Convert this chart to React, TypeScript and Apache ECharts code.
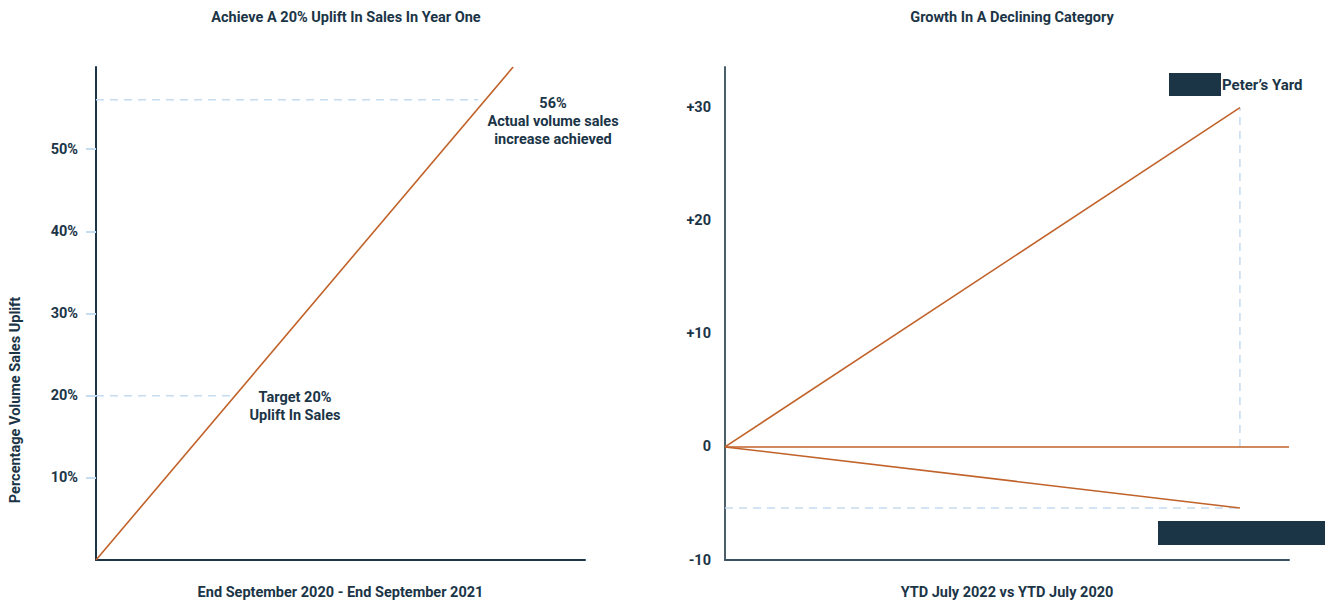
import React, { useEffect, useRef } from "react";
import * as echarts from "echarts";

const leftTitle = "Achieve A 20% Uplift In Sales In Year One";
const rightTitle = "Growth In A Declining Category";
const leftXName = "End September 2020 - End September 2021";
const rightXName = "YTD July 2022 vs YTD July 2020";
const leftYName = "Percentage Volume Sales Uplift";

const leftTicks = [10, 20, 30, 40, 50];
const rightTicks = [-10, 0, 10, 20, 30];

const upliftLine = [[0, 0], [85.3, 60]];
const targetGuide = [[0, 20], [28.4, 20]];
const actualGuide = [[0, 56], [78.2, 56]];

const petersYard = [[0, 0], [91.3, 30]];
const baseline = [[0, 0], [100, 0]];
const category = [[0, 0], [91.3, -5.4]];
const petersGuide = [[91.3, 0], [91.3, 30]];
const categoryGuide = [[0, -5.4], [91.3, -5.4]];

const NAVY = "#1b3547";
const ORANGE = "#c0622a";
const GUIDE = "#c6dcef";
const FONT = "Roboto, 'Noto Sans', sans-serif";

export default function App() {
  const ref = useRef<HTMLDivElement>(null);
  useEffect(() => {
    if (!ref.current) return;
    const chart = echarts.init(ref.current, undefined, { renderer: "svg" });
    const solid = (data: number[][], xi: number) => ({
      type: "line",
      xAxisIndex: xi,
      yAxisIndex: xi,
      data,
      symbol: "none",
      lineStyle: { color: ORANGE, width: 1.6 },
      silent: true,
      z: 5,
    });
    const dashed = (data: number[][], xi: number) => ({
      type: "line",
      xAxisIndex: xi,
      yAxisIndex: xi,
      data,
      symbol: "none",
      lineStyle: { color: GUIDE, width: 1.5, type: [8, 6] },
      silent: true,
      z: 2,
    });
    const axisLabelStyle = { color: NAVY, fontFamily: FONT, fontWeight: "bold", fontSize: 14.5 };
    const nameStyle = { color: NAVY, fontFamily: FONT, fontWeight: "bold", fontSize: 14.5 };
    chart.setOption({
      animation: false,
      backgroundColor: "#ffffff",
      textStyle: { fontFamily: FONT },
      title: [
        {
          text: leftTitle,
          left: 341,
          top: 5,
          textAlign: "center",
          textStyle: { color: NAVY, fontFamily: FONT, fontWeight: "bold", fontSize: 14.5 },
        },
        {
          text: rightTitle,
          left: 1007,
          top: 5,
          textAlign: "center",
          textStyle: { color: NAVY, fontFamily: FONT, fontWeight: "bold", fontSize: 14.5 },
        },
      ],
      grid: [
        { left: 96, top: 67, width: 489, height: 493, containLabel: false, outerBoundsMode: "none" },
        { left: 725, top: 67, width: 564, height: 493, containLabel: false, outerBoundsMode: "none" },
      ],
      xAxis: [
        {
          type: "value",
          gridIndex: 0,
          min: 0,
          max: 100,
          name: leftXName,
          nameLocation: "middle",
          nameGap: 25,
          nameTextStyle: nameStyle,
          axisLine: { show: true, lineStyle: { color: NAVY, width: 2 } },
          axisTick: { show: false },
          axisLabel: { show: false },
          splitLine: { show: false },
        },
        {
          type: "value",
          gridIndex: 1,
          min: 0,
          max: 100,
          name: rightXName,
          nameLocation: "middle",
          nameGap: 25,
          nameTextStyle: nameStyle,
          axisLine: { show: true, onZero: false, lineStyle: { color: "#3c5261", width: 2 } },
          axisTick: { show: false },
          axisLabel: { show: false },
          splitLine: { show: false },
        },
      ],
      yAxis: [
        {
          type: "value",
          gridIndex: 0,
          min: 0,
          max: 60,
          interval: 10,
          axisLine: { show: true, lineStyle: { color: NAVY, width: 2 } },
          axisTick: { show: true, length: 10, customValues: leftTicks, lineStyle: { color: GUIDE, width: 2 } },
          axisLabel: {
            ...axisLabelStyle,
            margin: 18,
            customValues: leftTicks,
            formatter: (v: number) => `${v}%`,
          },
          splitLine: { show: false },
        },
        {
          type: "value",
          gridIndex: 1,
          min: -10,
          max: 33.6,
          interval: 10,
          axisLine: { show: true, onZero: false, lineStyle: { color: "#4a5e6c", width: 2 } },
          axisTick: { show: false },
          axisLabel: {
            ...axisLabelStyle,
            margin: 14,
            customValues: rightTicks,
            formatter: (v: number) => (v > 0 ? `+${v}` : `${v}`),
          },
          splitLine: { show: false },
        },
      ],
      series: [
        dashed(targetGuide, 0),
        dashed(actualGuide, 0),
        solid(upliftLine, 0),
        dashed(petersGuide, 1),
        dashed(categoryGuide, 1),
        solid(petersYard, 1),
        solid(baseline, 1),
        solid(category, 1),
      ],
      graphic: [
        {
          type: "text",
          x: 15,
          y: 400,
          rotation: Math.PI / 2,
          style: {
            text: leftYName,
            fill: NAVY,
            font: `bold 14.5px ${FONT}`,
            align: "center",
            verticalAlign: "middle",
          },
        },
        {
          type: "text",
          x: 553,
          y: 94,
          style: {
            text: "56%\nActual volume sales\nincrease achieved",
            fill: NAVY,
            font: `bold 14.5px ${FONT}`,
            align: "center",
            verticalAlign: "top",
            lineHeight: 18,
          },
        },
        {
          type: "text",
          x: 295,
          y: 388,
          style: {
            text: "Target 20%\nUplift In Sales",
            fill: NAVY,
            font: `bold 14.5px ${FONT}`,
            align: "center",
            verticalAlign: "top",
            lineHeight: 18,
          },
        },
        {
          type: "rect",
          shape: { x: 1169, y: 73, width: 52, height: 23 },
          style: { fill: NAVY },
        },
        {
          type: "text",
          x: 1222,
          y: 85,
          style: {
            text: "Peter\u2019s Yard",
            fill: NAVY,
            font: `bold 15px ${FONT}`,
            align: "left",
            verticalAlign: "middle",
          },
        },
        {
          type: "rect",
          shape: { x: 1158, y: 521, width: 167, height: 24 },
          style: { fill: NAVY },
        },
      ],
    });
    return () => chart.dispose();
  }, []);
  return (
    <div
      ref={ref}
      style={{ position: "absolute", left: 0, top: 0, width: 1330, height: 606, background: "#fff" }}
    />
  );
}
